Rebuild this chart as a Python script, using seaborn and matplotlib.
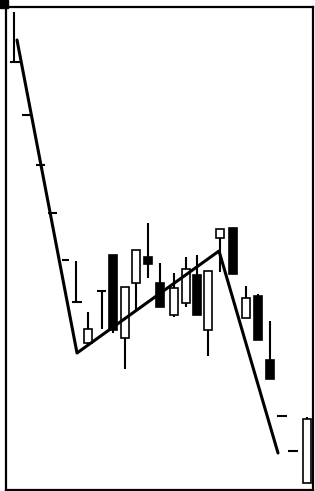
import matplotlib
matplotlib.use("Agg")
import matplotlib.pyplot as plt
import seaborn as sns
import pandas as pd
from matplotlib.patches import Rectangle

# candles: position, open, high, low, close
cx = [88, 113, 125, 136, 148, 160, 174, 186, 197, 208, 220, 233, 246, 258, 270, 307]
c_open = [14.7, 23.5, 15.2, 20.7, 23.3, 20.7, 17.5, 18.7, 21.5, 16.0, 25.2, 26.2, 17.2, 19.4, 13.0, 0.7]
c_high = [17.8, 23.5, 20.3, 24.0, 26.7, 22.7, 21.7, 23.3, 23.5, 21.9, 26.1, 26.2, 20.4, 19.6, 16.9, 7.3]
c_low = [14.5, 15.7, 12.1, 18.0, 21.2, 18.3, 17.3, 18.3, 17.5, 13.4, 21.8, 21.6, 17.2, 15.0, 11.1, 0.7]
c_close = [16.1, 16.0, 20.3, 24.0, 22.6, 18.3, 20.2, 22.1, 17.5, 21.9, 26.1, 21.6, 19.2, 15.0, 11.1, 7.1]

# plain high-low bars
bx = [14, 76, 102]
b_high = [47.8, 22.9, 19.9]
b_low = [42.8, 18.8, 16.1]

# short price ticks: start, end, level
tick_x0 = [10, 22, 36, 48, 62, 72, 97, 277, 288]
tick_x1 = [20, 32, 45, 57, 69, 82, 106, 287, 298]
tick_y = [42.8, 37.5, 32.5, 27.7, 23.0, 18.8, 19.9, 7.4, 3.9]

# trend line
trend_x = [17, 77, 219, 278]
trend_y = [45.0, 13.7, 23.9, 3.7]

sns.set_theme(style="white")

fig = plt.figure(figsize=(3.15, 4.91), dpi=100)
ax = fig.add_axes([6 / 315, 1 / 491, 307 / 315, 483 / 491])

df = pd.DataFrame({"x": cx, "o": c_open, "h": c_high, "l": c_low, "c": c_close})
df["bottom"] = df[["o", "c"]].min(axis=1)
df["height"] = (df["c"] - df["o"]).abs()
df["face"] = ["white" if c > o else "black" for o, c in zip(df["o"], df["c"])]

ax.vlines(df["x"], df["l"], df["h"], color="black", lw=1.5, zorder=1)
ax.bar(df["x"], df["height"], bottom=df["bottom"], width=8,
       color=df["face"], edgecolor="black", linewidth=1.2, zorder=2)

ax.vlines(bx, b_low, b_high, color="black", lw=1.5, zorder=1)
ax.hlines(tick_y, tick_x0, tick_x1, color="black", lw=1.5, zorder=1)

sns.lineplot(x=trend_x, y=trend_y, color="black", lw=2.2, sort=False, ax=ax, zorder=3)

ax.set_xlim(6, 313)
ax.set_ylim(0, 48.3)
ax.set_xticks([])
ax.set_yticks([])
for s in ax.spines.values():
    s.set_visible(True)
    s.set_color("black")
    s.set_linewidth(1.6)

fig.add_artist(Rectangle((0, 483 / 491), 8 / 315, 8 / 491,
                         transform=fig.transFigure, color="black"))

fig.savefig("out.png", dpi=100)
